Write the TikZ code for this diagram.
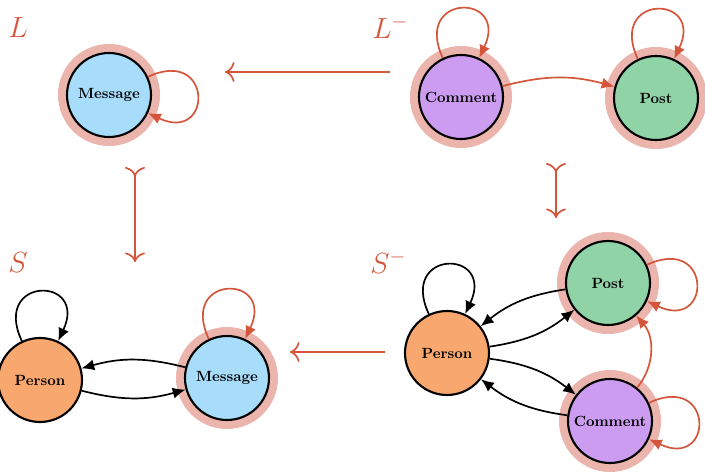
\documentclass[tikz,border=0pt]{standalone}
\usepackage{xcolor}
\usepackage{tikz}
\usetikzlibrary{arrows.meta, positioning}
\definecolor{morphred}{HTML}{D5553A}
\definecolor{halored}{HTML}{EBB4AC}
\definecolor{msgblue}{HTML}{A8DCFB}
\definecolor{cmtpurple}{HTML}{CC9CF0}
\definecolor{postgreen}{HTML}{8FD3A6}
\definecolor{personorange}{HTML}{F8A76F}

\begin{document}
\begin{tikzpicture}[
  vertex/.style={circle, draw=black, line width=1.5pt, minimum size=2.1cm,
    inner sep=0pt, font=\bfseries\fontsize{10.5}{12}\selectfont},
  marked/.style={preaction={draw=halored, line width=0.45cm}},
  link/.style={-{Latex[length=3.2mm, width=2.8mm]}, line width=1.2pt},
  redlink/.style={link, draw=morphred, fill=none},
  selfloop/.style={min distance=1.8cm},
  proj/.style={-{To[scale=1.6]}, draw=morphred, line width=1.2pt},
  morph/.style={{To[reversed, scale=1.6]}-{To[scale=1.6]}, draw=morphred, line width=1.2pt},
  glabel/.style={anchor=base west, inner sep=0pt, text=morphred, font=\huge}]
  \useasboundingbox (0,0) rectangle (17.625,11.85);

  % L and L^-
  \node[glabel] (lbl-l) at (0.2,10.925) {$L$};
  \node[glabel] (lbl-lm) at (9.3,10.9) {$L^-$};
  \node[vertex, marked, fill=msgblue] (l-msg) at (2.725,9.475) {Message};
  \node[vertex, marked, fill=cmtpurple] (lm-cmt) at (11.525,9.425) {Comment};
  \node[vertex, marked, fill=postgreen] (lm-post) at (16.4,9.4) {Post};

  % S and S^-
  \node[glabel] (lbl-s) at (0.2,5.05) {$S$};
  \node[glabel] (lbl-sm) at (9.25,5.025) {$S^-$};
  \node[vertex, fill=personorange] (s-per) at (1.0,2.35) {Person};
  \node[vertex, marked, fill=msgblue] (s-msg) at (5.675,2.4) {Message};
  \node[vertex, fill=personorange] (sm-per) at (11.175,3.025) {Person};
  \node[vertex, marked, fill=postgreen] (sm-post) at (15.2,4.775) {Post};
  \node[vertex, marked, fill=cmtpurple] (sm-cmt) at (15.25,1.325) {Comment};

  \draw[redlink] (l-msg) to[out=25, in=-25, selfloop] (l-msg);
  \draw[redlink] (lm-cmt) to[out=115, in=65, selfloop] (lm-cmt);
  \draw[redlink] (lm-post) to[out=115, in=65, selfloop] (lm-post);
  \draw[redlink] (lm-cmt) to[bend left=15] (lm-post);

  \draw[link] (s-per) to[out=115, in=65, selfloop] (s-per);
  \draw[redlink] (s-msg) to[out=115, in=65, selfloop] (s-msg);
  \draw[link] (s-msg) to[bend right=15] (s-per);
  \draw[link] (s-per) to[bend right=15] (s-msg);

  \draw[link] (sm-per) to[out=115, in=65, selfloop] (sm-per);
  \draw[link] (sm-post) to[bend right=15] (sm-per);
  \draw[link] (sm-per) to[bend right=15] (sm-post);
  \draw[link] (sm-per) to[bend left=15] (sm-cmt);
  \draw[link] (sm-cmt) to[bend left=15] (sm-per);
  \draw[redlink] (sm-cmt) to[bend right=40] (sm-post);
  \draw[redlink] (sm-post) to[out=25, in=-25, selfloop] (sm-post);
  \draw[redlink] (sm-cmt) to[out=25, in=-25, selfloop] (sm-cmt);

  % morphisms between the graphs
  \coordinate (top-from) at (9.75,10.05);
  \coordinate (top-to) at (5.625,10.05);
  \coordinate (bot-from) at (9.625,3.05);
  \coordinate (bot-to) at (7.25,3.05);
  \coordinate (left-from) at (3.375,7.675);
  \coordinate (left-to) at (3.375,5.3);
  \coordinate (right-from) at (13.9,7.775);
  \coordinate (right-to) at (13.9,6.4);
  \draw[proj] (top-from) -- (top-to);
  \draw[proj] (bot-from) -- (bot-to);
  \draw[morph] (left-from) -- (left-to);
  \draw[morph] (right-from) -- (right-to);
\end{tikzpicture}
\end{document}
